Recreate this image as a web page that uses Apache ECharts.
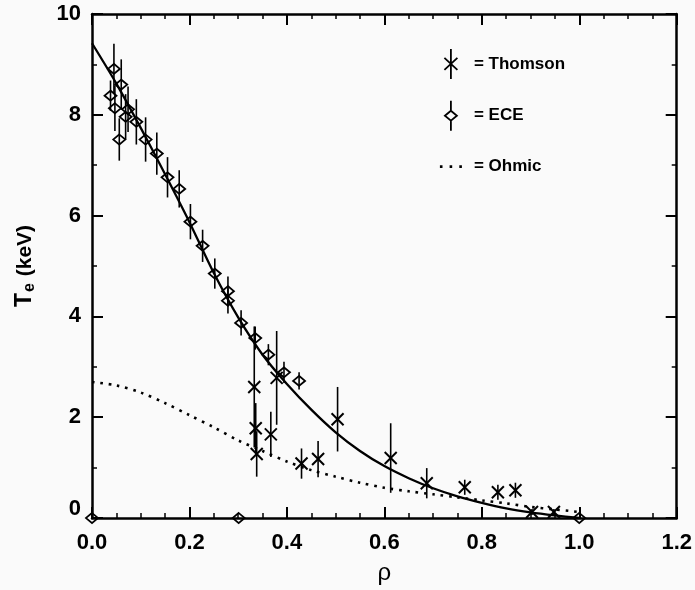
<!DOCTYPE html>
<html>
<head>
<meta charset="utf-8">
<script src="https://cdn.jsdelivr.net/npm/echarts@6/dist/echarts.min.js"></script>
<style>
html,body{margin:0;padding:0;background:#fafafa;}
#c{width:695px;height:590px;}
</style>
</head>
<body>
<div id="c"></div>
<script>
// ---- data ----
const xTicks = [0.0, 0.2, 0.4, 0.6, 0.8, 1.0, 1.2];
const yTicks = [0, 2, 4, 6, 8, 10];

const curveRho = [0,0.05,0.1,0.15,0.2,0.25,0.3,0.35,0.4,0.45,0.5,0.55,0.6,0.65,0.7,0.75,0.8,0.85,0.9,0.95,1.0];
const fitTe   = [9.42,8.62,7.74,6.82,5.87,4.86,3.98,3.24,2.66,2.15,1.70,1.33,1.03,0.79,0.59,0.43,0.30,0.19,0.11,0.05,0.0];
const ohmicTe = [2.70,2.63,2.49,2.28,2.04,1.80,1.54,1.33,1.12,0.95,0.82,0.70,0.60,0.53,0.47,0.41,0.35,0.29,0.22,0.17,0.12];

const eceRho = [0.045,0.060,0.038,0.047,0.074,0.069,0.091,0.056,0.110,0.133,0.155,0.179,0.202,0.227,0.252,0.279,0.279,0.306,0.335,0.362,0.394,0.425,0.0,0.301,1.0];
const eceTe  = [8.91,8.60,8.38,8.13,8.11,7.96,7.86,7.51,7.51,7.23,6.76,6.53,5.88,5.40,4.85,4.50,4.31,3.87,3.57,3.24,2.89,2.72,0,0,0];
const eceErr = [0.50,0.50,0.30,0.45,0.45,0.45,0.45,0.42,0.44,0.42,0.40,0.37,0.35,0.32,0.30,0.29,0.25,0.25,0.23,0.21,0.21,0.17,0,0,0];

const thomRho = [0.333,0.336,0.338,0.367,0.379,0.430,0.464,0.504,0.613,0.687,0.765,0.833,0.869,0.903,0.948];
const thomTe  = [2.60,1.78,1.27,1.66,2.78,1.08,1.17,1.96,1.19,0.69,0.61,0.51,0.55,0.12,0.12];
const thomErr = [1.20,0.50,0.45,0.45,0.93,0.30,0.36,0.64,0.69,0.30,0.15,0.15,0.15,0.06,0.06];

const seriesNames = ['Thomson', 'ECE', 'Ohmic'];

// ---- build ----
const FONT = '"Liberation Sans", Arial, sans-serif';
const fitData = curveRho.map((r, i) => [r, fitTe[i]]);
const ohmicData = curveRho.map((r, i) => [r, ohmicTe[i]]);
const eceData = eceRho.map((r, i) => [r, eceTe[i], eceErr[i]]);
const thomData = thomRho.map((r, i) => [r, thomTe[i], thomErr[i]]);

function errBar(api, lw) {
  const x = api.value(0), y = api.value(1), e = api.value(2);
  const t = api.coord([x, y + e]), b = api.coord([x, y - e]);
  return {type: 'line', shape: {x1: t[0], y1: t[1], x2: b[0], y2: b[1]}, style: {stroke: '#000', lineWidth: lw}};
}

const chart = echarts.init(document.getElementById('c'), null, {renderer: 'canvas'});

const axisCommon = {
  type: 'value',
  axisLine: {show: true, onZero: false, lineStyle: {color: '#000', width: 2.5}},
  axisTick: {show: true, inside: true, length: 11, lineStyle: {color: '#000', width: 2}},
  minorTick: {show: true, length: 5, lineStyle: {color: '#000', width: 1.5}},
  splitLine: {show: false},
  minorSplitLine: {show: false}
};

const option = {
  backgroundColor: '#fafafa',
  animation: false,
  textStyle: {fontFamily: FONT},
  grid: {left: 92, right: 13, top: 14, bottom: 69, containLabel: false},
  xAxis: [
    Object.assign({}, axisCommon, {
      position: 'bottom', min: xTicks[0], max: xTicks[xTicks.length - 1], interval: 0.2,
      minorTick: Object.assign({}, axisCommon.minorTick, {splitNumber: 4}),
      axisLabel: {color: '#000', fontSize: 22, fontWeight: 'bold', fontFamily: FONT, margin: 14,
        formatter: v => v.toFixed(1)},
      name: 'ρ', nameLocation: 'middle', nameGap: 43,
      nameTextStyle: {color: '#000', fontSize: 24, fontFamily: FONT}
    }),
    Object.assign({}, axisCommon, {
      position: 'top', min: xTicks[0], max: xTicks[xTicks.length - 1], interval: 0.2,
      minorTick: Object.assign({}, axisCommon.minorTick, {splitNumber: 4}),
      axisLabel: {show: false}
    })
  ],
  yAxis: [
    Object.assign({}, axisCommon, {
      position: 'left', min: yTicks[0], max: yTicks[yTicks.length - 1], interval: 2,
      minorTick: Object.assign({}, axisCommon.minorTick, {splitNumber: 2}),
      axisLabel: {color: '#000', fontSize: 22, fontWeight: 'bold', fontFamily: FONT, margin: 11,
        formatter: v => v === 0 ? '{z|0}' : String(v),
        rich: {z: {fontSize: 22, fontWeight: 'bold', fontFamily: FONT, color: '#000', padding: [0, 0, 18, 0]}}},
      name: '{t|T}{s|e}{u| (keV)}', nameLocation: 'middle', nameGap: 54,
      nameTextStyle: {
        color: '#000', fontFamily: FONT, fontWeight: 'bold',
        rich: {
          t: {fontSize: 23, fontWeight: 'bold', fontFamily: FONT, color: '#000'},
          s: {fontSize: 16, fontWeight: 'bold', fontFamily: FONT, color: '#000', padding: [10, 1, 0, 1]},
          u: {fontSize: 21, fontWeight: 'bold', fontFamily: FONT, color: '#000'}
        }
      }
    }),
    Object.assign({}, axisCommon, {
      position: 'right', min: yTicks[0], max: yTicks[yTicks.length - 1], interval: 2,
      minorTick: Object.assign({}, axisCommon.minorTick, {splitNumber: 2}),
      axisLabel: {show: false}
    })
  ],
  legend: {
    orient: 'vertical', left: 434, top: 43,
    itemWidth: 22, itemHeight: 30, itemGap: 20,
    selectedMode: false,
    formatter: '= {name}',
    textStyle: {color: '#000', fontSize: 17, fontWeight: 'bold', fontFamily: FONT, padding: [0, 0, 0, 7]},
    data: [
      {name: seriesNames[0], icon: 'path://M0,0M22,30M11,0L11,30M4.5,9L17.5,21M4.5,21L17.5,9',
        itemStyle: {color: 'rgba(0,0,0,0)', borderColor: '#000', borderWidth: 1.8}},
      {name: seriesNames[1], icon: 'path://M0,0M22,30M11,0L11,10M11,20L11,30M5,15L11,10L17,15L11,20Z',
        itemStyle: {color: 'rgba(0,0,0,0)', borderColor: '#000', borderWidth: 1.8}},
      {name: seriesNames[2], icon: 'path://M0,0M22,30M0,13.7h2.6v2.6h-2.6zM9.7,13.7h2.6v2.6h-2.6zM19.4,13.7h2.6v2.6h-2.6z',
        itemStyle: {color: '#000', borderWidth: 0}}
    ]
  },
  series: [
    {
      name: 'fit', type: 'line', data: fitData, smooth: 0.3, showSymbol: false, symbol: 'none',
      lineStyle: {color: '#000', width: 2.3}, silent: true, z: 3
    },
    {
      name: seriesNames[2], type: 'line', data: ohmicData, smooth: 0.3, showSymbol: false, symbol: 'none',
      lineStyle: {color: '#000', width: 2.6, type: [2.6, 5.8], cap: 'butt'}, itemStyle: {color: '#000'}, z: 3
    },
    {
      name: seriesNames[1], type: 'custom', data: eceData, clip: false, z: 4,
      renderItem: (params, api) => errBar(api, 1.6),
      itemStyle: {color: '#000'}
    },
    {
      name: seriesNames[1], type: 'scatter', data: eceData, clip: false, z: 5,
      symbol: 'diamond', symbolSize: [12, 10],
      itemStyle: {color: 'rgba(0,0,0,0)', borderColor: '#000', borderWidth: 1.8, opacity: 1}
    },
    {
      name: seriesNames[0], type: 'custom', data: thomData, clip: false, z: 5,
      itemStyle: {color: '#000'},
      renderItem: (params, api) => {
        const c = api.coord([api.value(0), api.value(1)]);
        const s = 6;
        const st = {stroke: '#000', lineWidth: 2};
        return {type: 'group', children: [
          errBar(api, 1.6),
          {type: 'line', shape: {x1: c[0] - s, y1: c[1] - s, x2: c[0] + s, y2: c[1] + s}, style: st},
          {type: 'line', shape: {x1: c[0] - s, y1: c[1] + s, x2: c[0] + s, y2: c[1] - s}, style: st}
        ]};
      }
    }
  ]
};
chart.setOption(option);
</script>
</body>
</html>
